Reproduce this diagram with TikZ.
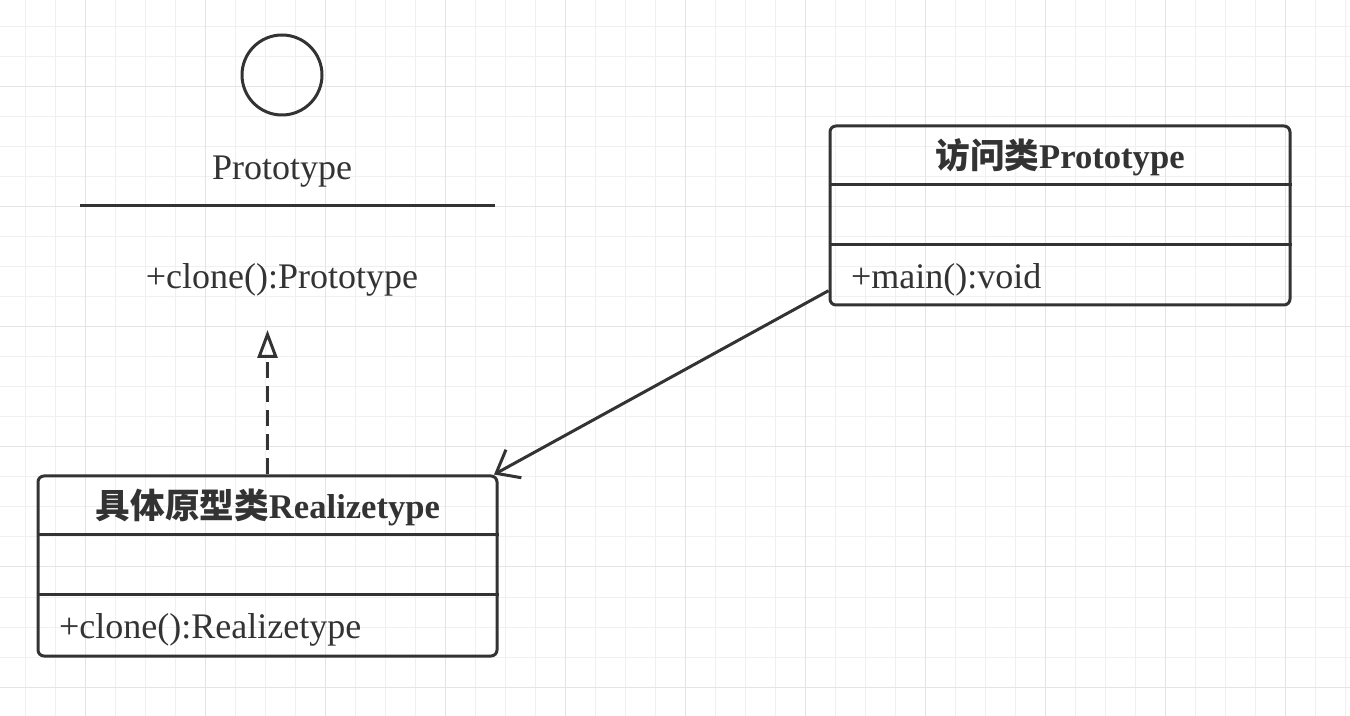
\documentclass[tikz,border=0pt]{standalone}
\usepackage{fontspec}
\setmainfont{Liberation Serif}
\newfontfamily\cjk{Noto Sans CJK SC}
\usepackage{tikz}
\usetikzlibrary{arrows.meta}
\definecolor{linec}{HTML}{333333}
\definecolor{gridminor}{HTML}{F0F0F0}
\definecolor{gridmajor}{HTML}{E4E4E4}

\begin{document}
\begin{tikzpicture}[x=0.5pt,y=-0.5pt,line width=1.5pt,color=linec,
                    class node/.style={draw,rounded corners=3pt,inner sep=0pt},
                    title node/.style={font=\fontsize{17.3}{20}\selectfont\bfseries},
                    member node/.style={font=\fontsize{18}{21}\selectfont}]

  \useasboundingbox (0,0) rectangle (1350,716);
  \fill[white] (0,0) rectangle (1350,716);
  \foreach \x in {25,55,...,1345} \draw[gridminor,line width=0.5pt] (\x,0) -- (\x,716);
  \foreach \y in {27,57,...,716} \draw[gridminor,line width=0.5pt] (0,\y) -- (1350,\y);
  \foreach \x in {85,205,...,1345} \draw[gridmajor,line width=0.5pt] (\x,0) -- (\x,716);
  \foreach \y in {87,207,...,716} \draw[gridmajor,line width=0.5pt] (0,\y) -- (1350,\y);

  \node[circle,draw,minimum size=40pt,inner sep=0pt] (iface) at (282,75) {};
  \node[member node] (ifacename) at (282,172) {Prototype};
  \draw (80,206) -- (495,206);
  \node[member node] (ifaceop) at (282,280) {+clone():Prototype};
  \coordinate (realize) at (267.5,330);

  \node[class node,minimum width=229.5pt,minimum height=90pt] (real) at (267.5,566) {};
  \draw ([yshift=-30pt]real.north west) -- ([yshift=-30pt]real.north east);
  \draw ([yshift=-60pt]real.north west) -- ([yshift=-60pt]real.north east);
  \node[title node] (realname) at (268,507) {{\cjk 具体原型类}Realizetype};
  \node[member node,anchor=west] (realop) at (51,630) {+clone():Realizetype};

  \node[class node,minimum width=230pt,minimum height=89.5pt] (visit) at (1060,215.5) {};
  \draw ([yshift=-30pt]visit.north west) -- ([yshift=-30pt]visit.north east);
  \draw ([yshift=-60pt]visit.north west) -- ([yshift=-60pt]visit.north east);
  \node[title node] (visitname) at (1060,157) {{\cjk 访问类}Prototype};
  \node[member node,anchor=west] (visitop) at (843,280) {+main():void};

  \draw[dash pattern=on 8pt off 4pt,-{Triangle[open,length=14pt,width=10pt]}] (real.north) -- (realize);
  \draw[-{Straight Barb[length=10pt,width=16pt]}] (visit.198.6) -- (real.22);
\end{tikzpicture}
\end{document}
